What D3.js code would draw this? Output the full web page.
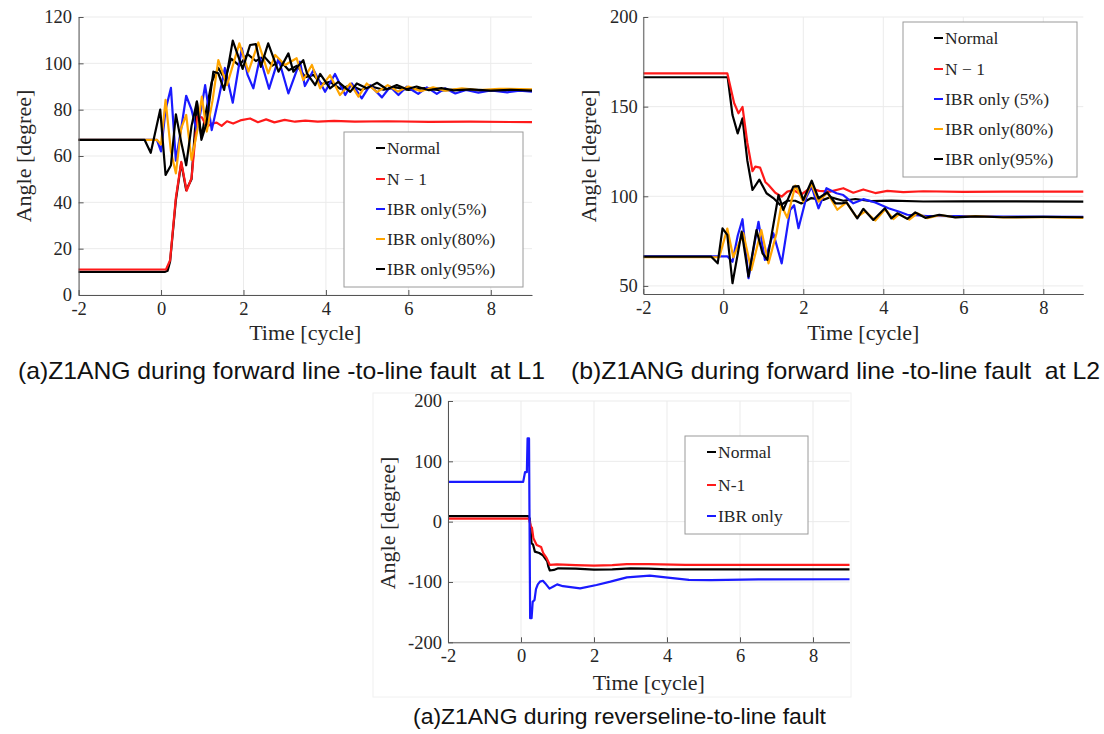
<!DOCTYPE html>
<html>
<head>
<meta charset="utf-8">
<script src="https://cdn.jsdelivr.net/npm/d3@7"></script>
<style>
body { margin: 0; background: #fff; }
svg text { font-family: "Liberation Serif", "DejaVu Serif", serif; fill: #262626; }
svg text.cap { font-family: "Liberation Sans", Arial, sans-serif; fill: #111; }
</style>
</head>
<body>
<svg width="1104" height="734"></svg>
<script>
// ---- data (time in cycles, angle in degrees) ----
var xTicks = [-2, 0, 2, 4, 6, 8];
var aTicks = [0, 20, 40, 60, 80, 100, 120];
var bTicks = [50, 100, 150, 200];
var cTicks = [-200, -100, 0, 100, 200];

// (a) forward fault at L1
var aNormal = [[-2,10],[0.1,10],[0.16,10.5],[0.22,14.5],[0.36,41],[0.49,57],[0.61,45.3],[0.74,50],[0.87,83.5],[0.98,68],[1.1,80],[1.23,92],[1.39,98],[1.55,93],[1.7,102],[1.9,99],[2.1,104],[2.3,101],[2.5,103],[2.7,99],[2.9,101],[3.1,97],[3.3,99],[3.5,94],[3.7,95],[3.9,91],[4.1,92],[4.35,89],[4.6,90.5],[4.85,88.5],[5.1,90],[5.4,88.6],[5.7,89.6],[6,88.5],[6.4,89.3],[6.8,88.3],[7.3,88.8],[7.8,88.2],[8.4,88.5],[9,88.2]];
var aN1 = [[-2,11],[0.12,11],[0.22,15],[0.36,42],[0.49,57.5],[0.62,45],[0.74,50.5],[0.88,77],[0.99,76.7],[1.11,72.6],[1.23,74],[1.35,74.4],[1.47,73],[1.6,75],[1.75,74],[1.95,75.5],[2.16,76.2],[2.35,74.6],[2.55,75.8],[2.75,74.5],[3,75.6],[3.25,74.8],[3.5,75.3],[3.8,74.8],[4.2,75.2],[4.7,74.8],[5.5,75],[6.5,74.7],[7.5,74.8],[9,74.6]];
var aIbr5 = [[-2,67],[-0.1,67],[0,62],[0.11,80],[0.24,89.4],[0.36,58],[0.49,72],[0.61,86],[0.74,80],[0.87,70.5],[0.99,82],[1.07,90.6],[1.23,71.2],[1.4,85],[1.55,98],[1.74,83],[1.96,106.5],[2.1,95],[2.24,89.2],[2.4,102.5],[2.62,89],[2.85,102],[3.09,87],[3.37,100.7],[3.49,90.2],[3.7,97.1],[3.98,87.7],[4.22,95.4],[4.47,86.3],[4.63,91.3],[4.87,84.9],[5.07,90.6],[5.36,85.3],[5.56,89.9],[5.76,86.3],[5.96,89.9],[6.24,86.8],[6.45,89.6],[6.69,86.8],[6.89,89.2],[7.14,87],[7.4,88.5],[7.7,87.3],[8,88.3],[8.4,87.5],[8.7,88.2],[9,87.8]];
var aIbr80 = [[-2,67],[-0.1,67],[0,65],[0.11,84.2],[0.24,62],[0.36,52.5],[0.49,72],[0.61,77.7],[0.74,58.3],[0.87,70],[0.99,85.6],[1.11,70.5],[1.25,84],[1.39,101.4],[1.6,90.6],[1.9,108.6],[2.12,96.4],[2.36,109],[2.6,95.7],[2.77,103.6],[3.01,99.3],[3.29,102.2],[3.45,92.8],[3.66,99.3],[3.86,89.2],[4.1,94.9],[4.34,86.3],[4.59,91.3],[4.79,85.6],[4.99,91.3],[5.24,87.6],[5.5,90.6],[5.75,87.8],[6,90],[6.3,88],[6.6,89.6],[6.9,88.2],[7.3,89.2],[7.7,88.5],[8.2,89],[9,88.8]];
var aIbr95 = [[-2,67],[-0.4,67],[-0.25,61.4],[-0.02,80],[0.11,51.8],[0.24,56],[0.36,78],[0.49,66],[0.61,56],[0.74,73],[0.87,83.5],[0.98,67],[1.1,74],[1.27,96.4],[1.39,95.7],[1.53,88.5],[1.74,109.8],[1.98,97.6],[2.16,107.9],[2.3,108.3],[2.42,98.5],[2.6,108.6],[2.85,96.4],[3.09,104.3],[3.21,96.4],[3.45,101.4],[3.54,95.7],[3.74,90.6],[3.86,95.4],[4.1,89.2],[4.3,92],[4.59,87.7],[4.75,91.3],[4.99,89.2],[5.24,91.6],[5.48,88.8],[5.72,90.6],[5.96,88.8],[6.2,90],[6.5,88.4],[6.8,89.3],[7.1,88.3],[7.5,88.8],[8,88.2],[8.5,88.6],[9,88.2]];

// (b) forward fault at L2
var bNormal = [[-2,166.4],[0.11,166.4],[0.23,145.3],[0.36,135.1],[0.48,143.5],[0.6,120],[0.73,103.5],[0.9,109.3],[1.08,101.7],[1.25,99],[1.43,95],[1.6,97.5],[1.8,97.5],[1.95,96],[2.2,99],[2.5,98],[2.67,99.5],[3,97.5],[3.3,98.5],[3.7,97.3],[4.2,97.6],[5,97.1],[6,97.2],[9,97]];
var bN1 = [[-2,168.6],[0.1,168.6],[0.27,152],[0.38,146.3],[0.48,149.8],[0.6,130],[0.73,114],[0.8,116.5],[0.92,116],[1.05,108],[1.13,106.3],[1.3,102],[1.46,99.8],[1.6,102.6],[1.75,103.5],[1.95,101],[2.17,104.5],[2.4,103],[2.67,102.6],[3,104.5],[3.25,102],[3.5,103.8],[3.8,101.8],[4.1,103],[4.5,102.3],[5,102.8],[6,102.5],[7,102.6],[9,102.6]];
var bIbr5 = [[-2,66.5],[0.1,66.5],[0.23,63.5],[0.36,78],[0.48,87.2],[0.63,54.3],[0.75,70],[0.88,85.8],[1.04,64.5],[1.25,79.4],[1.46,62.6],[1.67,92.4],[1.77,95],[1.88,82.2],[2.08,99.8],[2.21,105.4],[2.38,93.3],[2.58,104.5],[2.83,101.7],[3,100.7],[3.25,96.1],[3.5,98.4],[3.8,96.5],[4.13,93.3],[4.4,91.4],[4.6,89.7],[5.1,89],[6,88.9],[7,88.7],[9,88.6]];
var bIbr80 = [[-2,66],[-0.1,66],[0.1,82],[0.25,66],[0.36,72],[0.5,79.4],[0.7,58.9],[0.95,81.2],[1.13,62.6],[1.33,79.4],[1.45,95],[1.6,88],[1.8,106],[2,97],[2.2,107],[2.38,97],[2.6,102],[2.85,92.5],[3.08,96.6],[3.33,88.3],[3.55,91.6],[3.8,86.5],[4.05,92.8],[4.25,87.3],[4.4,90],[4.65,87],[4.85,90.5],[5.1,87.8],[5.4,89.5],[5.8,88.3],[6.3,88.9],[7,88.2],[8,88.3],[9,88]];
var bIbr95 = [[-2,66.3],[-0.3,66.3],[-0.14,62.6],[-0.02,82.1],[0.1,78.5],[0.23,51.5],[0.46,80.3],[0.63,55.2],[0.83,81.2],[0.98,68.2],[1.1,64.5],[1.38,100.7],[1.5,92.4],[1.75,105.4],[1.88,105.7],[2,97.9],[2.21,108.7],[2.38,98.9],[2.6,102.1],[2.8,96.1],[2.95,96],[3.08,96.6],[3.35,87.7],[3.5,93],[3.75,86.8],[4.04,93.3],[4.2,87.7],[4.35,90.5],[4.6,87.4],[4.8,91],[5.05,88],[5.4,89.7],[5.8,88.2],[6.3,88.8],[7,88.3],[8,88.5],[9,88.3]];

// (c) reverse fault
var cNormal = [[-2,9],[0.2,9],[0.24,5],[0.27,-20],[0.29,-35.8],[0.33,-38],[0.38,-49.7],[0.5,-52],[0.6,-56],[0.66,-60.7],[0.72,-66],[0.75,-74.6],[0.79,-81],[0.9,-80],[1.02,-77.3],[1.5,-78],[2,-79.5],[2.5,-79],[3,-77.5],[3.5,-78],[4,-79],[5,-79],[9,-79]];
var cN1 = [[-2,5],[0.22,5],[0.27,-8],[0.3,-10],[0.34,-27.5],[0.43,-38.6],[0.55,-42],[0.61,-52.4],[0.7,-60],[0.79,-71.8],[0.98,-70.7],[1.5,-72],[2,-73],[2.5,-72],[2.9,-70.3],[3.5,-70.5],[4.5,-71.5],[6,-71.8],[9,-71.8]];
var cIbr = [[-2,66],[0.06,66],[0.11,82],[0.16,82],[0.18,138],[0.22,138],[0.25,-160],[0.29,-160],[0.32,-133],[0.37,-130],[0.41,-112],[0.46,-104],[0.52,-99.5],[0.6,-98],[0.66,-102],[0.78,-111],[0.9,-107],[0.99,-104],[1.15,-107],[1.62,-110.5],[2.07,-105],[2.45,-99.5],[2.9,-92.3],[3.53,-89.5],[3.96,-92.5],[4.6,-96.4],[5.2,-96.8],[6.5,-95.7],[9,-95.5]];

var labelsA = ["Normal", "N \u2212 1", "IBR only(5%)", "IBR only(80%)", "IBR only(95%)"];
var labelsB = ["Normal", "N \u2212 1", "IBR only (5%)", "IBR only(80%)", "IBR only(95%)"];
var labelsC = ["Normal", "N-1", "IBR only"];
var colors5 = ["#000000", "#ff1a1a", "#1a1aff", "#ffa500", "#000000"];
var colors3 = ["#000000", "#ff1a1a", "#1a1aff"];

var svg = d3.select("svg");

function drawPanel(p) {
  var x = d3.scaleLinear().domain([-2, 9]).range([p.left, p.right]);
  var y = d3.scaleLinear().domain(p.yDomain).range([p.bottom, p.top]);
  var g = svg.append("g");

  // grid
  g.append("g").selectAll("line").data(xTicks).enter().append("line")
    .attr("x1", d => x(d)).attr("x2", d => x(d))
    .attr("y1", p.top).attr("y2", p.bottom)
    .attr("stroke", "#ebebeb").attr("stroke-width", 1);
  g.append("g").selectAll("line").data(p.yTicks).enter().append("line")
    .attr("x1", p.left).attr("x2", p.right)
    .attr("y1", d => y(d)).attr("y2", d => y(d))
    .attr("stroke", "#ebebeb").attr("stroke-width", 1);

  // series
  var line = d3.line().x(d => x(d[0])).y(d => y(d[1]));
  p.series.forEach(function (s, i) {
    g.append("path").datum(s)
      .attr("d", line)
      .attr("fill", "none")
      .attr("stroke", p.colors[i])
      .attr("stroke-width", 2.2)
      .attr("stroke-linejoin", "round");
  });

  // axes
  var xAxis = d3.axisBottom(x).tickValues(xTicks).tickSizeInner(-5).tickSizeOuter(0)
    .tickPadding(7).tickFormat(d => String(d));
  var yAxis = d3.axisLeft(y).tickValues(p.yTicks).tickSizeInner(-5).tickSizeOuter(0)
    .tickPadding(p.yPad).tickFormat(d => String(d));
  var gx = g.append("g").attr("transform", "translate(0," + p.bottom + ")").call(xAxis);
  var gy = g.append("g").attr("transform", "translate(" + p.left + ",0)").call(yAxis);
  [gx, gy].forEach(function (a) {
    a.select(".domain").attr("stroke", "#555").attr("stroke-width", 1);
    a.selectAll(".tick line").attr("stroke", "#555");
    a.selectAll(".tick text")
      .style("font-family", "'Liberation Serif','DejaVu Serif',serif")
      .style("font-size", "18.5px").attr("fill", "#333");
  });

  // axis titles
  g.append("text").attr("x", (p.left + p.right) / 2).attr("y", p.xLabelY)
    .attr("text-anchor", "middle").style("font-size", "22px").text("Time [cycle]");
  g.append("text").attr("transform", "translate(" + p.yLabelX + "," + p.yLabelY + ") rotate(-90)")
    .attr("text-anchor", "middle").attr("dy", "0.35em").style("font-size", "22px").text("Angle [degree]");

  // legend
  var L = p.legend;
  var lg = g.append("g");
  lg.append("rect").attr("x", L.x).attr("y", L.y).attr("width", L.w).attr("height", L.h)
    .attr("fill", "#fff").attr("stroke", "#9a9a9a").attr("stroke-width", 1);
  L.labels.forEach(function (lab, i) {
    var ry = L.rows[i];
    lg.append("line").attr("x1", L.sx).attr("x2", L.sx + 9).attr("y1", ry).attr("y2", ry)
      .attr("stroke", p.colors[i]).attr("stroke-width", 2);
    lg.append("text").attr("x", L.sx + 11).attr("y", ry).attr("dy", "0.33em")
      .style("font-size", "17.5px").text(lab);
  });
}

// faint frame of the lower figure
svg.append("rect").attr("x", 373).attr("y", 393).attr("width", 478).attr("height", 304)
  .attr("fill", "none").attr("stroke", "#f0f0f0");

drawPanel({
  left: 78.6, right: 532, top: 17, bottom: 295, yDomain: [0, 120], yTicks: aTicks, yPad: 6.5,
  series: [aNormal, aN1, aIbr5, aIbr80, aIbr95], colors: colors5,
  xLabelY: 340, yLabelX: 23, yLabelY: 156,
  legend: { x: 344, y: 132, w: 179, h: 155, rows: [148, 179, 209, 239, 269], sx: 376, labels: labelsA }
});

drawPanel({
  left: 643.3, right: 1083.3, top: 17, bottom: 294, yDomain: [45.5, 200], yTicks: bTicks, yPad: 5.5,
  series: [bNormal, bN1, bIbr5, bIbr80, bIbr95], colors: colors5,
  xLabelY: 340, yLabelX: 588, yLabelY: 156,
  legend: { x: 903, y: 22, w: 174, h: 155, rows: [38, 69, 99, 129, 159], sx: 934, labels: labelsB }
});

drawPanel({
  left: 448, right: 849.5, top: 401, bottom: 642.3, yDomain: [-200, 200], yTicks: cTicks, yPad: 6,
  series: [cNormal, cN1, cIbr], colors: colors3,
  xLabelY: 690, yLabelX: 387, yLabelY: 523,
  legend: { x: 685, y: 436, w: 123, h: 98, rows: [452, 485, 516], sx: 707, labels: labelsC }
});

// captions
var captions = [
  { text: "(a)Z1ANG during forward line -to-line fault  at L1", x: 18, y: 379, len: 527, size: 24 },
  { text: "(b)Z1ANG during forward line -to-line fault  at L2", x: 571, y: 379, len: 529, size: 24 },
  { text: "(a)Z1ANG during reverseline-to-line fault", x: 413, y: 724, len: 413, size: 22 }
];
svg.selectAll("text.cap").data(captions).enter().append("text")
  .attr("class", "cap")
  .attr("x", d => d.x).attr("y", d => d.y)
  .attr("textLength", d => d.len).attr("lengthAdjust", "spacingAndGlyphs")
  .style("font-size", d => d.size + "px").style("white-space", "pre")
  .attr("xml:space", "preserve")
  .text(d => d.text);
</script>
</body>
</html>
